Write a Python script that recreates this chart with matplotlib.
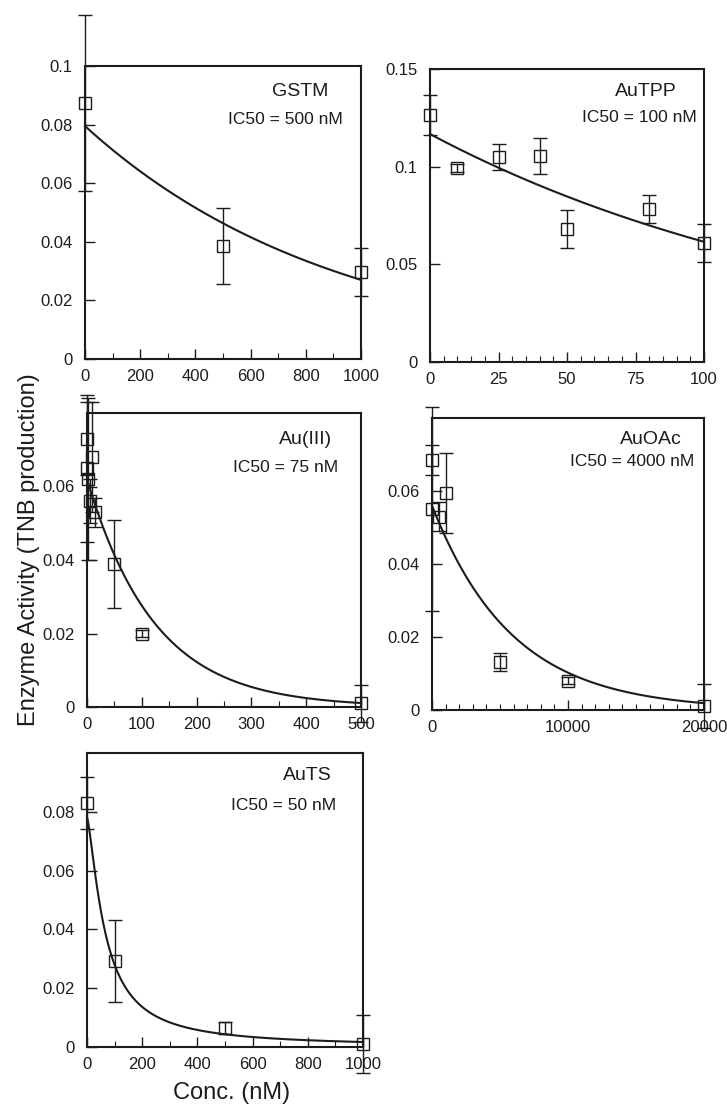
import numpy as np
import matplotlib
matplotlib.use('Agg')
import matplotlib.pyplot as plt
from matplotlib.ticker import FuncFormatter, MultipleLocator, FixedLocator

plt.rcParams['font.family'] = ['Liberation Sans', 'DejaVu Sans']

# ---------------- data ----------------
gstm_x = [0, 500, 1000]
gstm_y = [0.0874, 0.0386, 0.0297]
gstm_err = [0.030, 0.013, 0.0082]
gstm_fit = [0.0795, 0.00108]          # y0, decay constant

autpp_x = [0, 10, 25, 40, 50, 80, 100]
autpp_y = [0.1265, 0.0993, 0.1050, 0.1055, 0.0680, 0.0783, 0.0609]
autpp_err = [0.0103, 0.002, 0.0068, 0.009, 0.0098, 0.007, 0.0095]
autpp_fit = [0.1167, 0.0064]

au3_x = [0, 0, 1, 5, 10, 15, 50, 100, 500]
au3_y = [0.073, 0.065, 0.062, 0.056, 0.068, 0.053, 0.039, 0.020, 0.001]
au3_err = [0.010, 0.020, 0.022, 0.006, 0.015, 0.004, 0.012, 0.001, 0.005]
au3_fit = [0.062, 0.0081]

auoac_x = [0, 0, 500, 1000, 5000, 10000, 20000]
auoac_y = [0.0685, 0.055, 0.053, 0.0595, 0.0132, 0.008, 0.001]
auoac_err = [0.004, 0.028, 0.004, 0.011, 0.0025, 0.001, 0.006]
auoac_fit = [0.056, 0.00017]

auts_x = [0, 100, 500, 1000]
auts_y = [0.083, 0.0293, 0.0065, 0.001]
auts_err = [0.009, 0.014, 0.002, 0.010]
auts_fit = [0.078, 66.0, 1.4]         # y0, c, n (Hill)

names = ['GSTM', 'AuTPP', 'Au(III)', 'AuOAc', 'AuTS']
ic50_labels = ['IC50 = 500 nM', 'IC50 = 100 nM', 'IC50 = 75 nM',
               'IC50 = 4000 nM', 'IC50 = 50 nM']

# ---------------- figure ----------------
W, H = 727, 1106
fig = plt.figure(figsize=(W / 100, H / 100), dpi=100)
C = '#1c1c1c'


def px_axes(l, t, r, b):
    return fig.add_axes([l / W, 1 - b / H, (r - l) / W, (b - t) / H])


def fmt(v, pos):
    return f'{v:g}'


panels = [
    dict(box=(85, 66, 361, 359), x=gstm_x, y=gstm_y, e=gstm_err,
         xlim=(0, 1000), ylim=(0, 0.1), xmaj=200, xmin=100,
         yt=[0, 0.02, 0.04, 0.06, 0.08, 0.1], kind='exp', p=gstm_fit,
         name=(300, 92), ic=(285, 120)),
    dict(box=(430, 69, 704, 362), x=autpp_x, y=autpp_y, e=autpp_err,
         xlim=(0, 100), ylim=(0, 0.15), xmaj=25, xmin=5,
         yt=[0, 0.05, 0.1, 0.15], kind='exp', p=autpp_fit,
         name=(646, 92), ic=(639, 118)),
    dict(box=(87, 413, 361, 707), x=au3_x, y=au3_y, e=au3_err,
         xlim=(0, 500), ylim=(0, 0.08), xmaj=100, xmin=50,
         yt=[0, 0.02, 0.04, 0.06], kind='exp', p=au3_fit,
         name=(306, 440), ic=(286, 468)),
    dict(box=(432, 418, 704, 710), x=auoac_x, y=auoac_y, e=auoac_err,
         xlim=(0, 20000), ylim=(0, 0.08), xmaj=10000, xmin=1000,
         yt=[0, 0.02, 0.04, 0.06], kind='exp', p=auoac_fit,
         name=(651, 440), ic=(632, 462)),
    dict(box=(87, 753, 363, 1047), x=auts_x, y=auts_y, e=auts_err,
         xlim=(0, 1000), ylim=(0, 0.1), xmaj=200, xmin=100,
         yt=[0, 0.02, 0.04, 0.06, 0.08], kind='hill', p=auts_fit,
         name=(307, 775), ic=(284, 805)),
]

for i, P in enumerate(panels):
    ax = px_axes(*P['box'])
    ax.set_xlim(*P['xlim'])
    ax.set_ylim(*P['ylim'])
    xs = np.linspace(P['xlim'][0], P['xlim'][1], 400)
    if P['kind'] == 'exp':
        ys = P['p'][0] * np.exp(-P['p'][1] * xs)
    else:
        ys = P['p'][0] / (1 + (xs / P['p'][1]) ** P['p'][2])
    ax.plot(xs, ys, color=C, lw=1.5, zorder=2, clip_on=False)
    cont = ax.errorbar(P['x'], P['y'], yerr=P['e'], fmt='s', mfc='none',
                       mec=C, mew=1.0, ms=9, ecolor=C, elinewidth=1.0,
                       capsize=5, capthick=1.0, zorder=3)
    data_line, caps, bars = cont.lines
    data_line.set_clip_on(False)
    for c in caps:
        c.set_clip_on(False)
    for b in bars:
        b.set_clip_on(False)

    ax.xaxis.set_major_locator(MultipleLocator(P['xmaj']))
    ax.xaxis.set_minor_locator(MultipleLocator(P['xmin']))
    ax.yaxis.set_major_locator(FixedLocator(P['yt']))
    ax.xaxis.set_major_formatter(FuncFormatter(fmt))
    ax.yaxis.set_major_formatter(FuncFormatter(fmt))
    ax.tick_params(which='major', direction='in', length=7, width=1.0,
                   colors=C, labelsize=12, pad=7)
    ax.tick_params(axis='y', which='major', pad=9)
    ax.tick_params(which='minor', direction='in', length=4, width=0.8,
                   colors=C)
    for s in ax.spines.values():
        s.set_linewidth(1.5)
        s.set_color(C)

    nx, ny = P['name']
    fig.text(nx / W, 1 - ny / H, names[i], ha='center', va='center',
             fontsize=14, color=C)
    ix, iy = P['ic']
    fig.text(ix / W, 1 - iy / H, ic50_labels[i], ha='center', va='center',
             fontsize=12.5, color=C)

fig.text(29 / W, 1 - 550 / H, 'Enzyme Activity (TNB production)',
         rotation=90, ha='center', va='center', fontsize=17, color=C)
fig.text(232 / W, 1 - 1093 / H, 'Conc. (nM)', ha='center', va='center',
         fontsize=17, color=C)

fig.savefig('out.png', dpi=100)
